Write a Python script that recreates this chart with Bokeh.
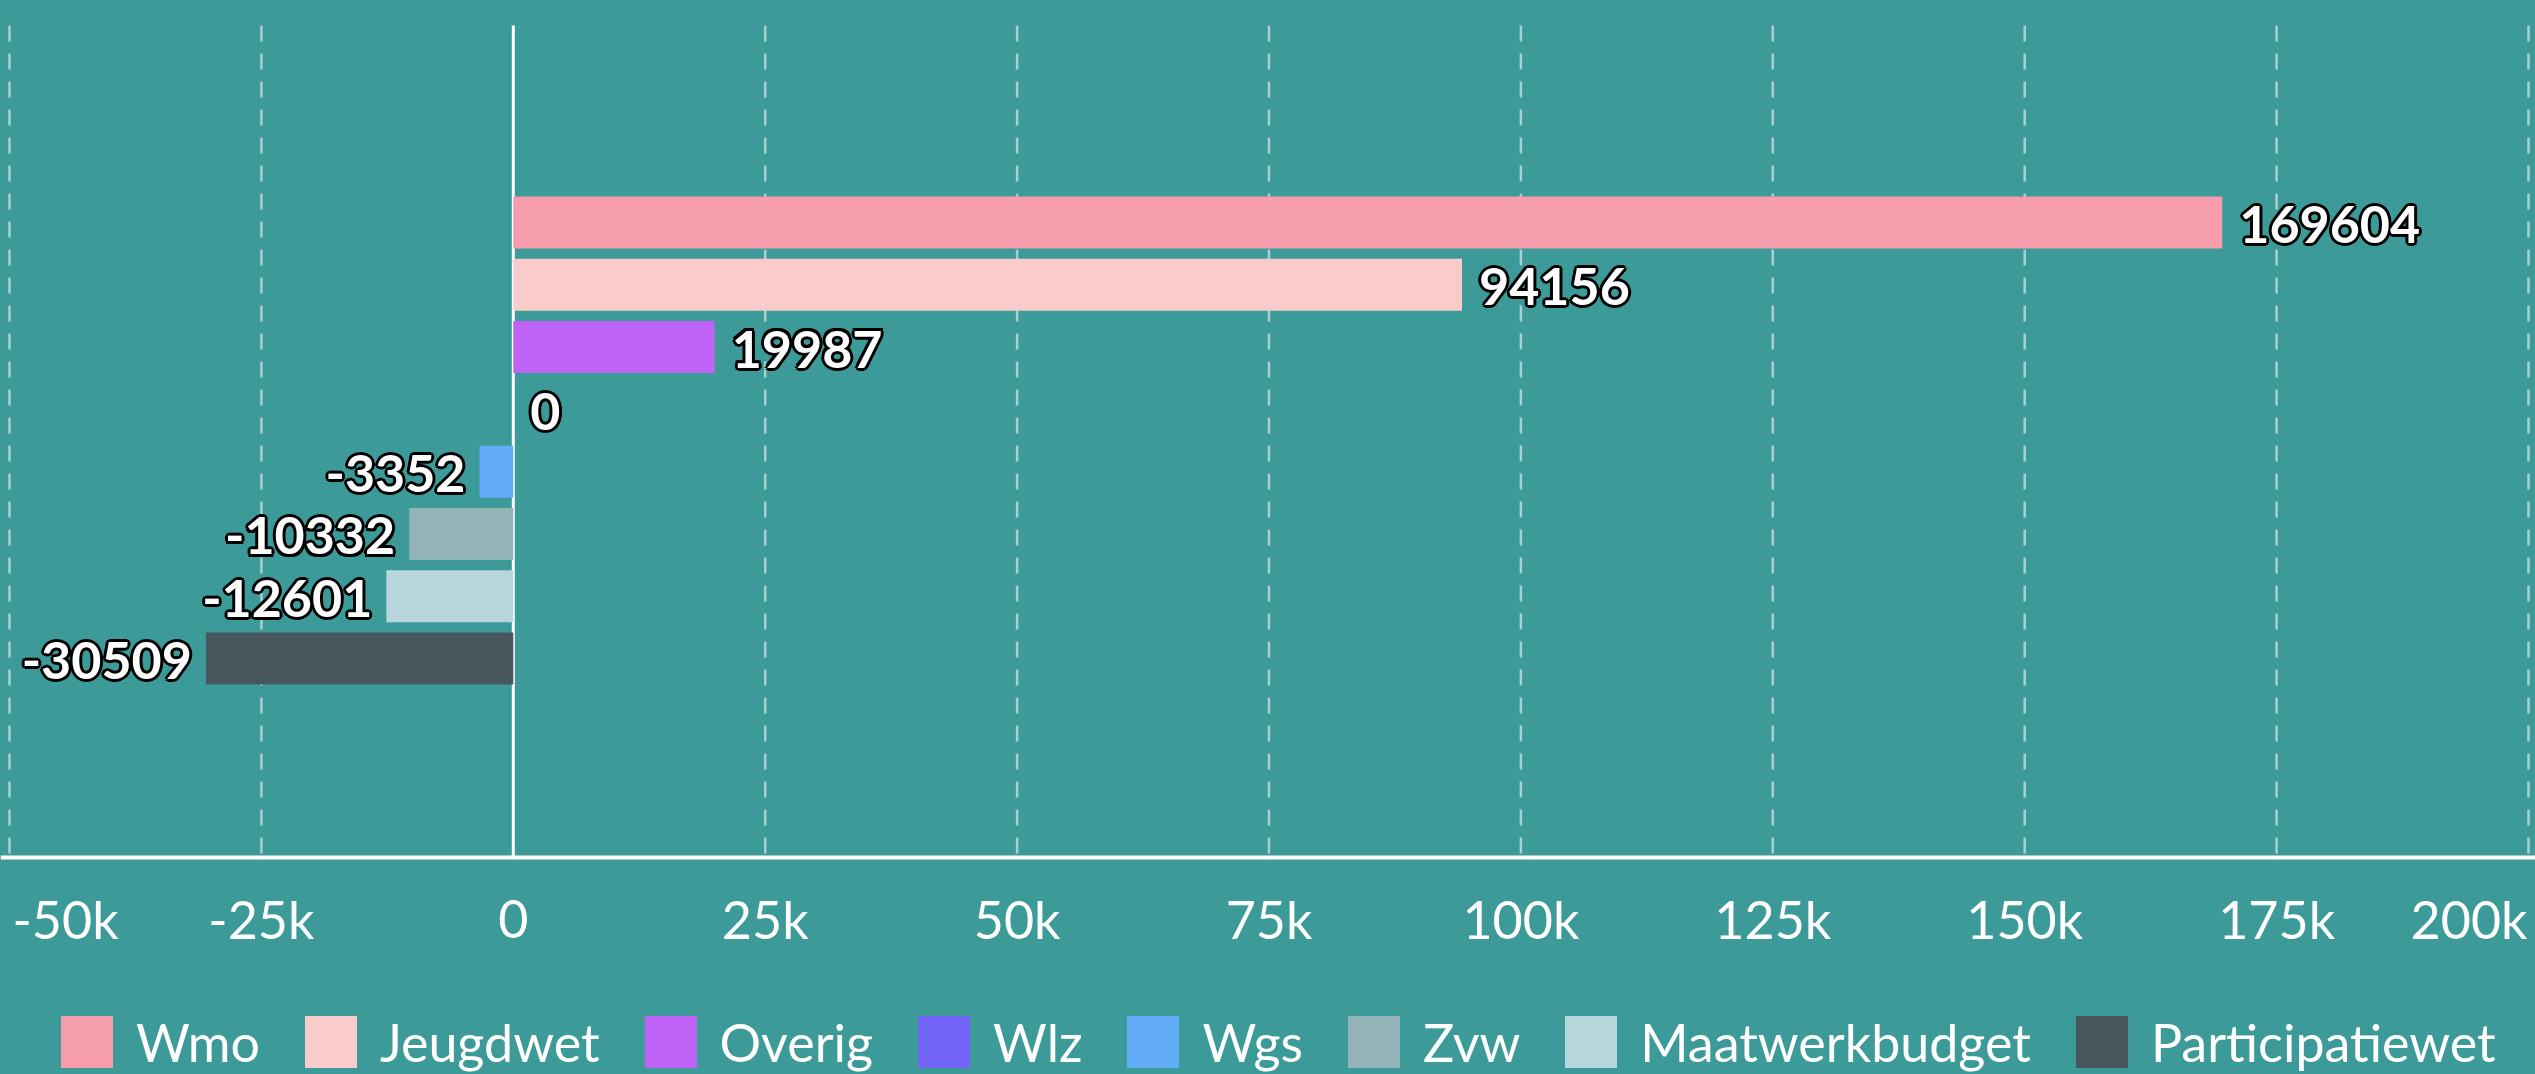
from bokeh.plotting import figure
from bokeh.models import ColumnDataSource, Range1d, Span
from bokeh.core.properties import value
from bokeh.embed import file_html
from bokeh.resources import INLINE

# ---- data ----
categories = ["Wmo", "Jeugdwet", "Overig", "Wlz", "Wgs", "Zvw", "Maatwerkbudget", "Participatiewet"]
values = [169604, 94156, 19987, 0, -3352, -10332, -12601, -30509]
colors = ["#F59CAD", "#F9CBCB", "#BF63F7", "#7264F6", "#63ACF8", "#94B3B8", "#B7D7DC", "#48565E"]
tick_values = [-50000, -25000, 0, 25000, 50000, 75000, 100000, 125000, 150000, 175000, 200000]
tick_labels = ["-50k", "-25k", "0", "25k", "50k", "75k", "100k", "125k", "150k", "175k", "200k"]

# ---- layout constants ----
BG = "#3C9A99"
W, H = 2535, 1074
PX_PER_UNIT = 2519 / 250000     # horizontal scale
X0_PX = 9                        # pixel position of -50k
x_start = tick_values[0] - X0_PX / PX_PER_UNIT
x_end = x_start + W / PX_PER_UNIT
PITCH = 62.29          # px per category slot
CENTER0 = 222          # px from top to first bar centre
y_top = -CENTER0 / PITCH
y_bottom = y_top + H / PITCH
GRID_TOP = (25 - CENTER0) / PITCH
AXIS_Y = (857 - CENTER0) / PITCH
TICK_Y = (918 - CENTER0) / PITCH
FONT = value("Lato")

p = figure(width=W, height=H, output_backend="svg", toolbar_location=None,
           x_range=Range1d(x_start, x_end), y_range=Range1d(y_bottom, y_top),
           x_axis_location=None, y_axis_location=None,
           min_border=0, background_fill_color=BG, border_fill_color=BG,
           outline_line_color=None)
p.grid.visible = False

# grid lines
grid_x = [t for t in tick_values if t != 0]
n = len(grid_x)
p.segment(x0=grid_x, y0=[GRID_TOP] * n, x1=grid_x, y1=[AXIS_Y] * n,
          line_color="white", line_alpha=0.55, line_width=2.5, line_dash="16 12")
p.segment(x0=[0], y0=[GRID_TOP], x1=[0], y1=[AXIS_Y], line_color="white", line_width=3)
p.add_layout(Span(location=AXIS_Y, dimension="width", line_color="white", line_width=4))

# bars
src = ColumnDataSource(dict(cat=categories, val=values, color=colors, idx=list(range(len(categories)))))
p.hbar(y="idx", left=0, right="val", height=0.835, fill_color="color", line_color=None,
       legend_field="cat", source=src)

# data labels with dark outline
pos = [i for i, v in enumerate(values) if v >= 0]
neg = [i for i, v in enumerate(values) if v < 0]
r = 3.0
d = 2.1
offsets = [(r, 0), (-r, 0), (0, r), (0, -r), (d, d), (-d, d), (d, -d), (-d, -d)]
LBL_DY = 2
for idxs, align, xo in ((pos, "left", 17), (neg, "right", -14)):
    xs = [values[i] for i in idxs]
    ys = idxs
    txt = [str(values[i]) for i in idxs]
    for dx, dy in offsets:
        p.text(x=xs, y=ys, text=txt, x_offset=xo + dx, y_offset=LBL_DY + dy, text_align=align,
               text_baseline="alphabetic", text_color="black", text_font=FONT,
               text_font_style="bold", text_font_size="52px")
    p.text(x=xs, y=ys, text=txt, x_offset=xo, y_offset=LBL_DY, text_align=align,
           text_baseline="alphabetic", text_color="white", text_font=FONT,
           text_font_style="bold", text_font_size="52px")

# tick labels
def ticks(sel, align, xo):
    p.text(x=[tick_values[i] for i in sel], y=[TICK_Y] * len(sel), text=[tick_labels[i] for i in sel],
           x_offset=xo, text_align=align, text_baseline="alphabetic", text_color="white",
           text_font=FONT, text_font_size="52px")

ticks([0], "left", 3)
ticks(list(range(1, len(tick_values) - 1)), "center", 0)
ticks([len(tick_values) - 1], "right", -1)

# legend
leg = p.legend[0]
leg.orientation = "horizontal"
leg.location = (54, 0)
leg.glyph_width = 65
leg.glyph_height = 65
leg.label_standoff = 17
leg.spacing = 38
leg.padding = 0
leg.margin = 0
leg.border_line_color = None
leg.background_fill_alpha = 0
leg.label_text_color = "white"
leg.label_text_font = "Lato"
leg.label_text_font_size = "52px"

template = """{% block preamble %}<style>html, body { background: #3C9A99; margin: 0; padding: 0; overflow: hidden; }</style>{% endblock %}"""
open("out.html", "w").write(file_html(p, INLINE, title="chart", template=template))
